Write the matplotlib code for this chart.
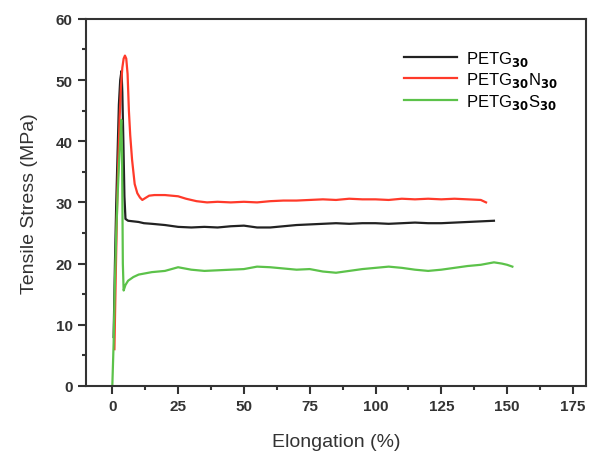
import matplotlib
matplotlib.use("Agg")
import matplotlib.pyplot as plt

plt.rcParams['font.family'] = ['Liberation Sans', 'DejaVu Sans']

# Data
x_petg = [0.5, 1.0, 1.5, 2.0, 2.5, 3.0, 3.5, 3.8, 4.2, 4.6, 5.0, 6, 8, 10, 12, 15, 20, 25, 30, 35,
          40, 45, 50, 55, 60, 65, 70, 75, 80, 85, 90, 95, 100, 105, 110, 115, 120, 125,
          130, 135, 140, 145]
y_petg = [8, 20, 30, 38, 46, 50, 51.5, 48, 40, 31, 27.3, 27.0, 26.9, 26.8, 26.6, 26.5, 26.3, 26.0, 25.9, 26.0,
          25.9, 26.1, 26.2, 25.9, 25.9, 26.1, 26.3, 26.4, 26.5, 26.6, 26.5, 26.6, 26.6, 26.5,
          26.6, 26.7, 26.6, 26.6, 26.7, 26.8, 26.9, 27.0]

x_n = [0.8, 1.3, 1.8, 2.3, 2.8, 3.3, 3.8, 4.3, 4.8, 5.3, 5.8, 6.3, 6.8, 7.5, 8.5, 9.5, 10.5, 11.4,
       12.5, 14, 16, 20, 25, 28, 32, 36, 40, 45, 50, 55, 60, 65, 70, 75, 80, 85, 90, 95,
       100, 105, 110, 115, 120, 125, 130, 135, 140, 142]
y_n = [6, 18, 29, 37, 44, 49, 52, 53.5, 54.0, 53.5, 51, 45, 41, 37, 33, 31.5, 30.8, 30.4,
       30.7, 31.1, 31.2, 31.2, 31.0, 30.6, 30.2, 30.0, 30.1, 30.0, 30.1, 30.0, 30.2, 30.3, 30.3, 30.4, 30.5, 30.4, 30.6, 30.5,
       30.5, 30.4, 30.6, 30.5, 30.6, 30.5, 30.6, 30.5, 30.4, 30.0]

x_s = [0.0, 0.5, 1.0, 1.5, 2.0, 2.5, 3.0, 3.4, 3.7, 4.0, 4.3, 5, 6, 8, 10, 15, 20, 25, 30,
       35, 40, 45, 50, 55, 60, 65, 70, 75, 80, 85, 90, 95, 100, 105, 110, 115, 120, 125,
       130, 135, 140, 145, 148, 150, 152]
y_s = [0.0, 7, 17, 25, 31, 36, 40, 43.5, 38, 20, 15.6, 16.5, 17.2, 17.8, 18.2, 18.6, 18.8, 19.4, 19.0,
       18.8, 18.9, 19.0, 19.1, 19.5, 19.4, 19.2, 19.0, 19.1, 18.7, 18.5, 18.8, 19.1, 19.3, 19.5, 19.3, 19.0, 18.8, 19.0,
       19.3, 19.6, 19.8, 20.2, 20.0, 19.8, 19.5]

labels = [r'PETG$_{\mathbf{30}}$', r'PETG$_{\mathbf{30}}$N$_{\mathbf{30}}$', r'PETG$_{\mathbf{30}}$S$_{\mathbf{30}}$']
colors = ['#222222', '#ff3a2a', '#5cc24a']

fig = plt.figure(figsize=(5.89, 4.52), dpi=100)
ax = fig.add_axes([0.146, 0.144, 0.849, 0.812])

ax.plot(x_petg, y_petg, color=colors[0], lw=1.6, label=labels[0])
ax.plot(x_n, y_n, color=colors[1], lw=1.6, label=labels[1])
ax.plot(x_s, y_s, color=colors[2], lw=1.6, label=labels[2])

ax.set_xlim(-10, 180)
ax.set_ylim(0, 60)
ax.set_xticks([0, 25, 50, 75, 100, 125, 150, 175])
ax.set_xticks([12.5, 37.5, 62.5, 87.5, 112.5, 137.5, 162.5], minor=True)
ax.set_yticks([0, 10, 20, 30, 40, 50, 60])
ax.set_yticks([5, 15, 25, 35, 45, 55], minor=True)
ax.tick_params(which='both', direction='out', top=False, right=False, width=1.5, color='#333333')
ax.tick_params(which='major', length=6, labelsize=11)
ax.tick_params(which='minor', length=3)
for lab in ax.get_xticklabels() + ax.get_yticklabels():
    lab.set_fontweight('bold')
    lab.set_color('#333333')
for sp in ax.spines.values():
    sp.set_linewidth(1.5)
    sp.set_color('#333333')

ax.set_xlabel('Elongation (%)', fontsize=14, color='#333333', labelpad=14)
ax.set_ylabel('Tensile Stress (MPa)', fontsize=14, color='#333333', labelpad=13)

leg = ax.legend(loc='upper left', bbox_to_anchor=(0.606, 0.96), frameon=False, fontsize=12,
                handlelength=3.2, handletextpad=0.5, labelspacing=0.15)

fig.savefig('out.png', dpi=100)
